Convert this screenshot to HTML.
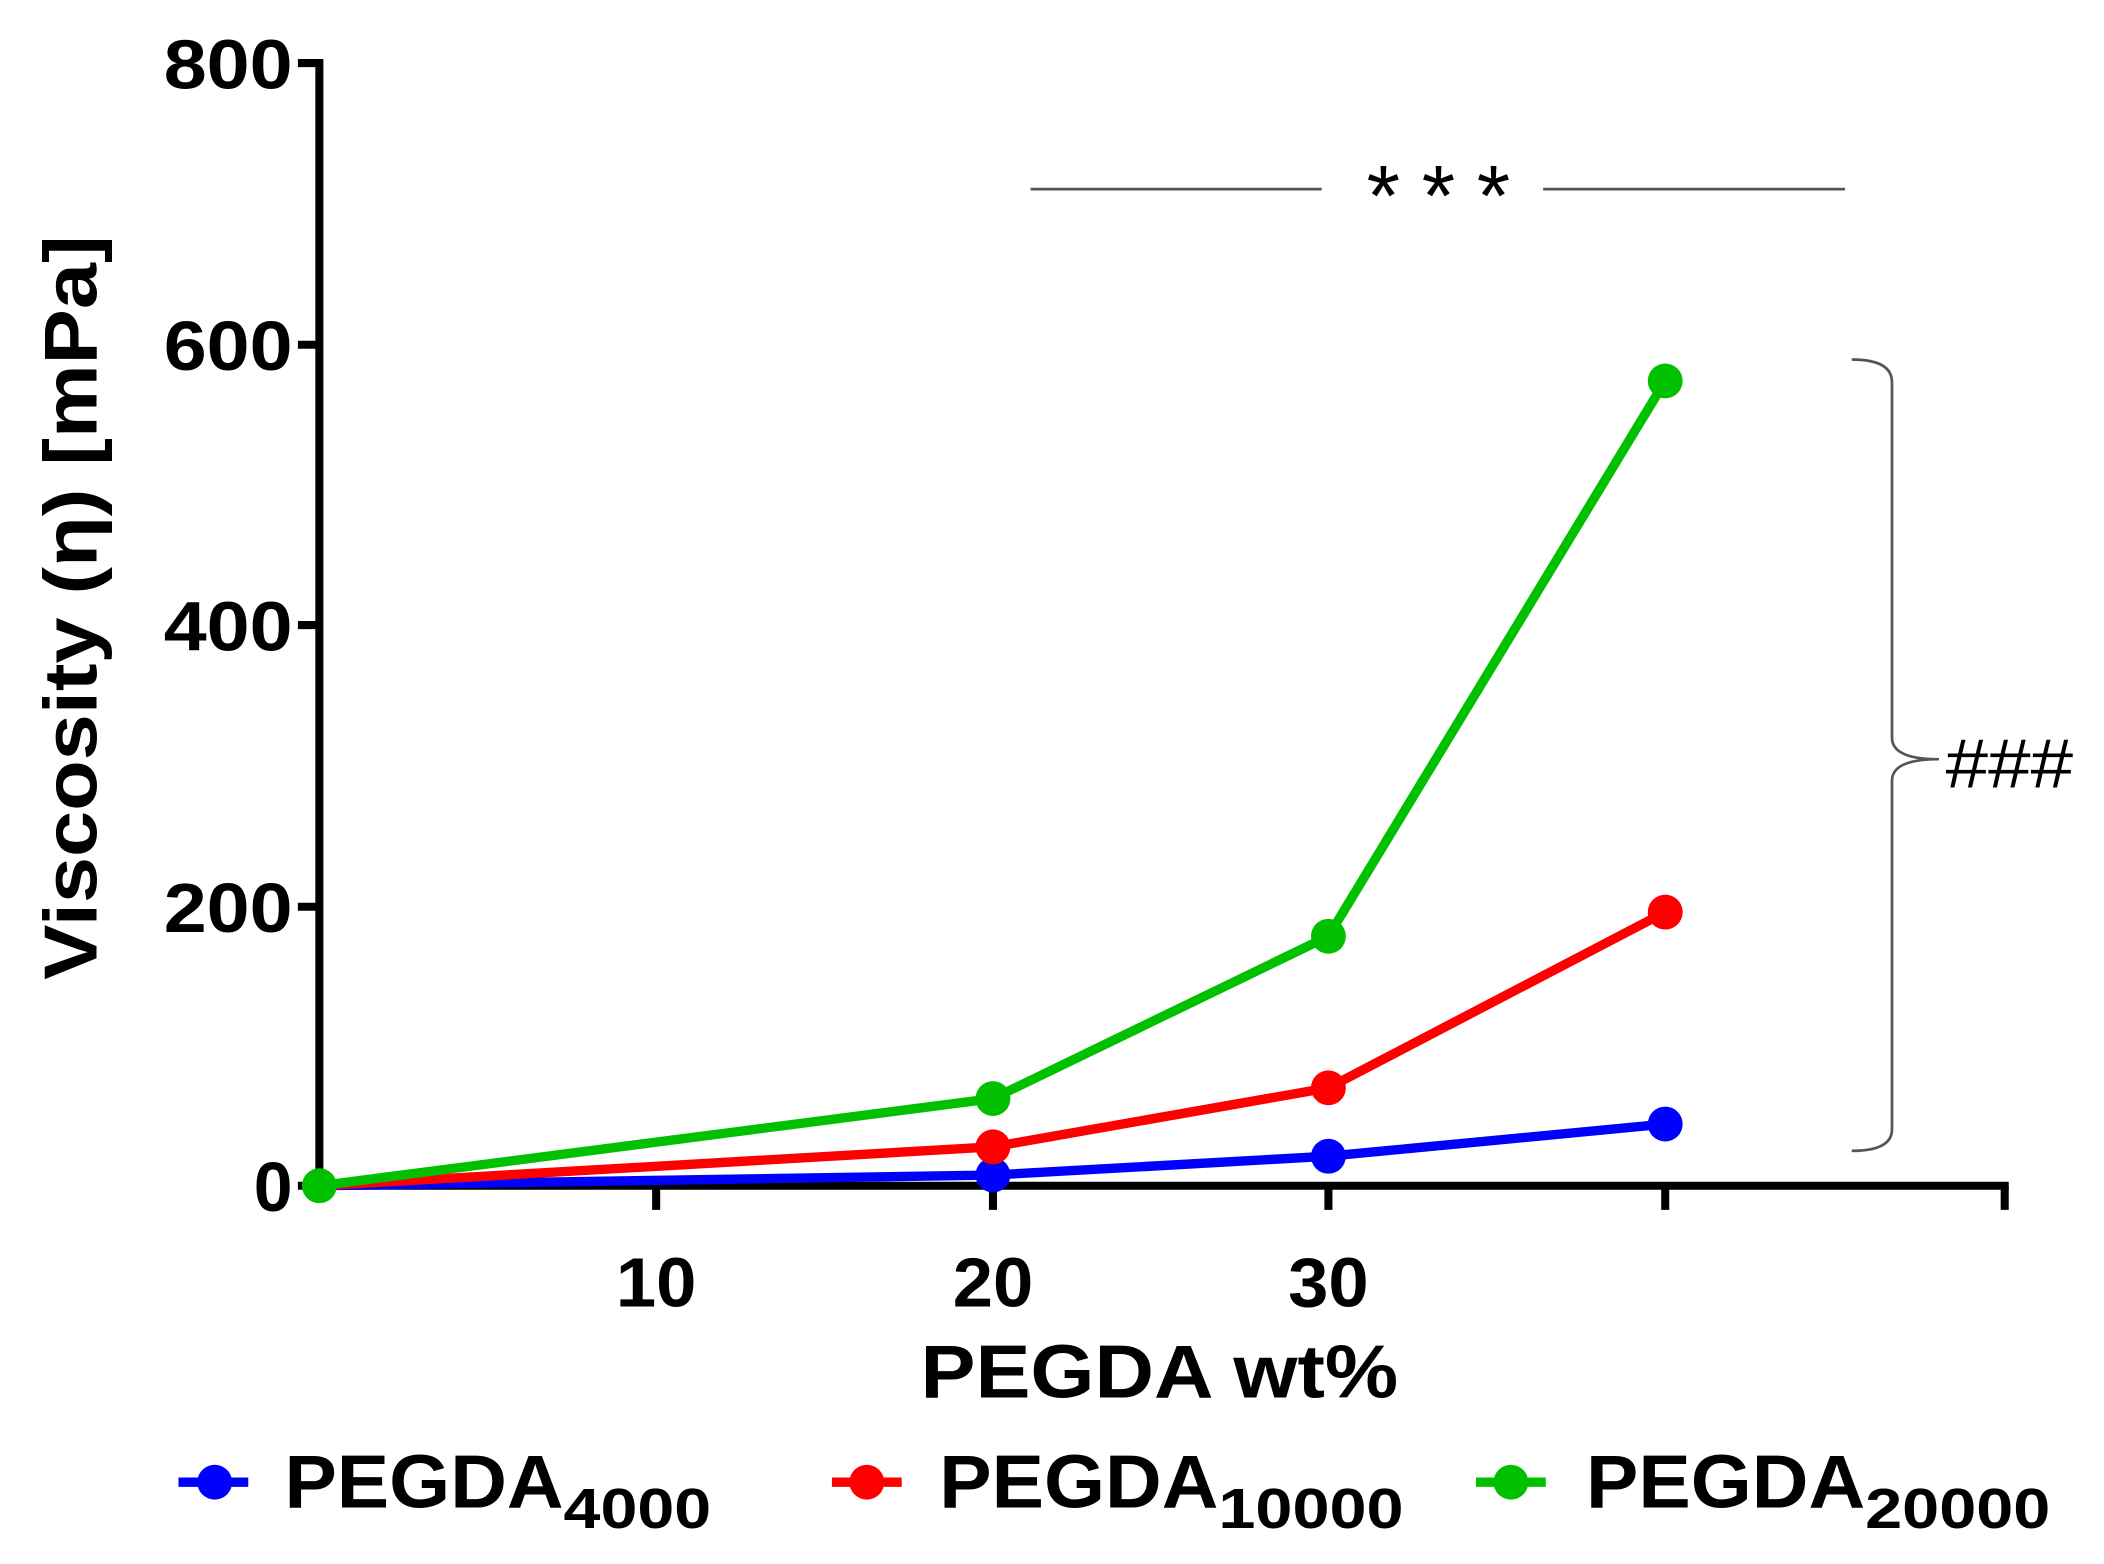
<!DOCTYPE html>
<html><head><style>html,body{margin:0;padding:0;background:#fff}svg{display:block}</style></head>
<body>
<svg width="2104" height="1564" viewBox="0 0 1568 1166" preserveAspectRatio="none" xmlns="http://www.w3.org/2000/svg" font-family="Liberation Sans, sans-serif">
<rect width="1568" height="1166" fill="#fff"/>
<g stroke="#000" stroke-width="6" fill="none">
<line x1="238" y1="44" x2="238" y2="887"/>
<line x1="235" y1="884" x2="1497" y2="884"/>
<line x1="222" y1="47" x2="238" y2="47"/>
<line x1="222" y1="257" x2="238" y2="257"/>
<line x1="222" y1="466" x2="238" y2="466"/>
<line x1="222" y1="676" x2="238" y2="676"/>
<line x1="222" y1="884" x2="238" y2="884"/>
<line x1="489" y1="884" x2="489" y2="902"/>
<line x1="740" y1="884" x2="740" y2="902"/>
<line x1="990" y1="884" x2="990" y2="902"/>
<line x1="1241" y1="884" x2="1241" y2="902"/>
<line x1="1494" y1="884" x2="1494" y2="902"/>
</g>
<g font-weight="bold" font-size="52" text-anchor="end">
<text x="218" y="66" textLength="96" lengthAdjust="spacingAndGlyphs">800</text><text x="218" y="276" textLength="96" lengthAdjust="spacingAndGlyphs">600</text><text x="218" y="485" textLength="96" lengthAdjust="spacingAndGlyphs">400</text><text x="218" y="695" textLength="96" lengthAdjust="spacingAndGlyphs">200</text><text x="218" y="903">0</text>
</g>
<g font-weight="bold" font-size="52" text-anchor="middle">
<text x="489" y="974" textLength="60" lengthAdjust="spacingAndGlyphs">10</text><text x="740" y="974" textLength="60" lengthAdjust="spacingAndGlyphs">20</text><text x="990" y="974" textLength="60" lengthAdjust="spacingAndGlyphs">30</text>
<text x="864" y="1042" font-size="56" textLength="356" lengthAdjust="spacingAndGlyphs">PEGDA wt%</text>
<text transform="translate(72,453) rotate(-90)" font-size="56" textLength="555" lengthAdjust="spacingAndGlyphs">Viscosity (η) [mPa]</text>
</g>
<g stroke-width="7" fill="none" stroke-linejoin="round">
<polyline stroke="#0000ff" points="238,884 740,876 990,862 1241,838"/>
<polyline stroke="#ff0000" points="238,884 740,855 990,811 1241,680"/>
<polyline stroke="#00c000" points="238,884 740,819 990,698 1241,284"/>
</g>
<g fill="#0000ff"><circle cx="740" cy="876" r="13"/><circle cx="990" cy="862" r="13"/><circle cx="1241" cy="838" r="13"/></g>
<g fill="#ff0000"><circle cx="740" cy="855" r="13"/><circle cx="990" cy="811" r="13"/><circle cx="1241" cy="680" r="13"/></g>
<g fill="#00c000"><circle cx="238" cy="884" r="13"/><circle cx="740" cy="819" r="13"/><circle cx="990" cy="698" r="13"/><circle cx="1241" cy="284" r="13"/></g>
<g stroke="#555" stroke-width="2" fill="none">
<line x1="768" y1="141" x2="985" y2="141"/><line x1="1150" y1="141" x2="1375" y2="141"/>
<path d="M1380,268 Q1410,268 1410,285 L1410,550 Q1410,566 1445,566 Q1410,566 1410,582 L1410,842 Q1410,858 1380,858"/>
</g>
<text x="1072" y="168" font-size="64" text-anchor="middle" textLength="107" lengthAdjust="spacing">***</text>
<text x="1450" y="587" font-size="52" textLength="95" lengthAdjust="spacingAndGlyphs">###</text>
<g stroke-width="7">
<line x1="133" y1="1105" x2="185" y2="1105" stroke="#0000ff"/><circle cx="160" cy="1105" r="13" fill="#0000ff"/>
<line x1="620" y1="1105" x2="672" y2="1105" stroke="#ff0000"/><circle cx="646" cy="1105" r="13" fill="#ff0000"/>
<line x1="1100" y1="1105" x2="1152" y2="1105" stroke="#00c000"/><circle cx="1126" cy="1105" r="13" fill="#00c000"/>
</g>
<g font-weight="bold" font-size="56">
<text x="212" y="1124"><tspan textLength="208" lengthAdjust="spacingAndGlyphs">PEGDA</tspan><tspan font-size="42" dy="15" textLength="110" lengthAdjust="spacingAndGlyphs">4000</tspan></text>
<text x="700" y="1124"><tspan textLength="208" lengthAdjust="spacingAndGlyphs">PEGDA</tspan><tspan font-size="42" dy="15" textLength="138" lengthAdjust="spacingAndGlyphs">10000</tspan></text>
<text x="1182" y="1124"><tspan textLength="208" lengthAdjust="spacingAndGlyphs">PEGDA</tspan><tspan font-size="42" dy="15" textLength="138" lengthAdjust="spacingAndGlyphs">20000</tspan></text>
</g>
</svg>
</body></html>
